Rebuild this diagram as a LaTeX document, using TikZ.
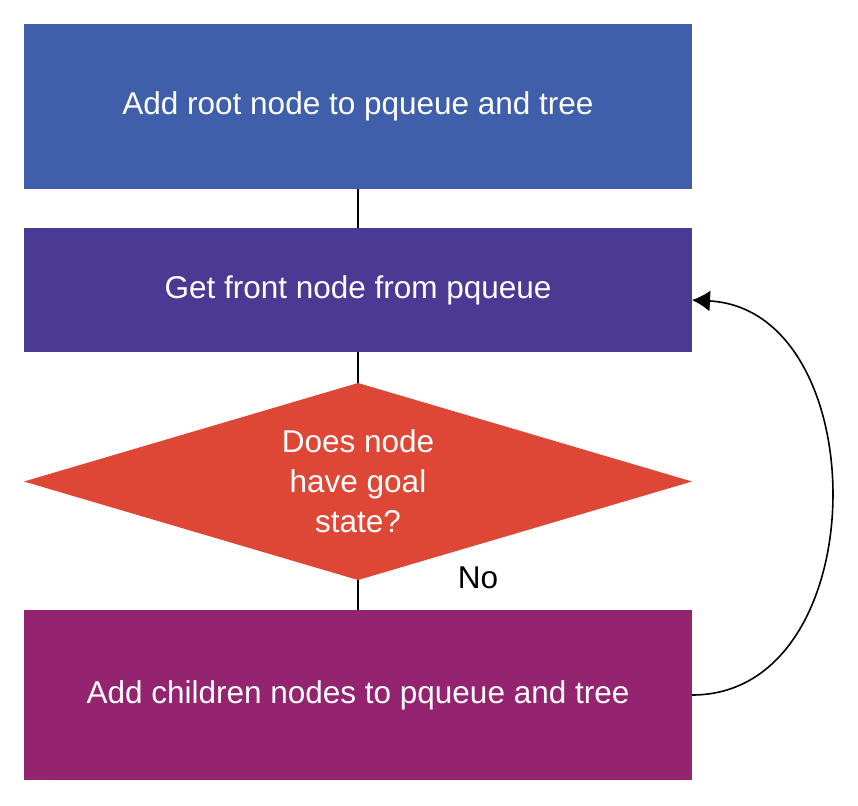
\documentclass[tikz,border=0pt]{standalone}
\usepackage{fontspec}
\setmainfont{Liberation Sans}
\usetikzlibrary{positioning,shapes.geometric,arrows.meta}
\definecolor{rootblue}{HTML}{3F5FAB}
\definecolor{frontpurple}{HTML}{4B3A94}
\definecolor{goalred}{HTML}{DE4636}
\definecolor{childmagenta}{HTML}{94246F}

\begin{document}
\begin{tikzpicture}
    [x=1pt, y=1pt,
    node distance =30pt,
    line width=1.6pt,
    stepbox/.style={inner sep=0pt, outer sep=0pt, rectangle, minimum width=668pt, text=white,
        font=\fontsize{31.5}{40}\selectfont},
    test/.style={inner sep=0pt, outer sep=0pt, diamond, aspect=3.39, minimum width=668pt,
        minimum height=197pt, text=white, align=center,
        font=\fontsize{31.5}{40}\selectfont}]
        \useasboundingbox (0,0) rectangle (858,-805);
        %% Flow chart
        \node[stepbox, fill=rootblue, minimum height=165pt] (Root) at (358,-106.5) {Add root node to pqueue and tree};
        \node[stepbox, fill=frontpurple, minimum height=124pt, below=39pt of Root] (Front) {Get front node from pqueue};
        \node[test, fill=goalred, below=31pt of Front] (Goal) {Does node\\have goal\\state?};
        \node[stepbox, fill=childmagenta, minimum height=170pt, below=30pt of Goal] (Children) {Add children nodes to pqueue and tree};
        \node[font=\fontsize{31.5}{30}\selectfont] (No) at (478,-578) {No};

        \draw (Root) to (Front);
        \draw (Front) to (Goal);
        \draw (Goal) to (Children);
        \draw[-{Latex[length=18pt,width=21pt]}] (Children.east) .. controls +(185,0) and +(185,-10) .. ([yshift=-10pt]Front.east);
    \end{tikzpicture}
\end{document}
